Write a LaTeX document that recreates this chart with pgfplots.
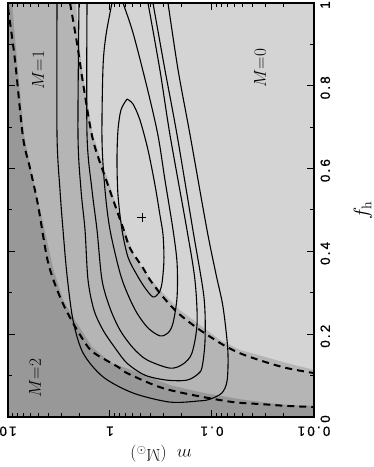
\documentclass[border=0pt]{standalone}
\usepackage{fontspec}
\usepackage{pgfplots}
\pgfplotsset{compat=1.18}
\newfontfamily\ticksf[LetterSpace=16,FakeBold=0.8]{Liberation Sans}
\newcommand\tl[1]{\mbox{\fontsize{13.5}{15}\selectfont\ticksf #1}}
\definecolor{mzero}{RGB}{212,212,212}
\definecolor{mone}{RGB}{181,181,181}
\definecolor{mtwo}{RGB}{152,152,152}
\tikzset{
  contour/.style={black, line width=1.1bp, smooth},
  bound/.style={black, line width=2bp, dash pattern=on 7bp off 5bp, smooth},
  mlab/.style={rotate=90, font=\fontsize{17}{19}\selectfont},
}
\begin{document}
\begin{tikzpicture}
\begin{axis}[
  scale only axis, width=306bp, height=414bp,
  xmode=log, x dir=reverse, xmin=0.01, xmax=10,
  ymin=0, ymax=1,
  axis background/.style={fill=mzero},
  axis on top,
  axis line style={line width=1.1bp},
  xtick={0.01,0.1,1,10}, xticklabels={\tl{0.01},\tl{0.1},\tl{1},\tl{10}},
  minor xtick={0.02,0.03,0.04,0.05,0.06,0.07,0.08,0.09,0.2,0.3,0.4,0.5,0.6,0.7,0.8,0.9,2,3,4,5,6,7,8,9},
  ytick={0,0.2,0.4,0.6,0.8,1}, yticklabels={\tl{0},\tl{0.2},\tl{0.4},\tl{0.6},\tl{0.8},\tl{1}},
  minor ytick={0.1,0.3,0.5,0.7,0.9},
  yticklabel pos=right,
  tick align=inside,
  major tick length=7bp, minor tick length=4bp,
  every tick/.style={black, line width=1bp},
  % shifts are in the rotated frame of each label
  xticklabel style={rotate=180, anchor=south, yshift=6bp},
  yticklabel style={rotate=90, anchor=north, xshift=-2bp, yshift=-3bp},
]
% shaded regions M=1 and M=2
\addplot[fill=mone, draw=none] coordinates {(2.154,1.0) (2.013,0.903) (1.799,0.807) (1.468,0.681) (1.046,0.572) (0.763,0.471) (0.569,0.384) (0.454,0.350) (0.324,0.307) (0.206,0.258) (0.131,0.222) (0.0835,0.186) (0.0531,0.162) (0.0282,0.143) (0.0172,0.128) (0.01,0.114) (0.01,0) (10,0) (10,1)};
\addplot[fill=mtwo, draw=none] coordinates {(9.136,1.0) (8.16,0.862) (6.96,0.681) (5.686,0.572) (4.64,0.481) (3.622,0.360) (2.889,0.283) (2.203,0.234) (1.501,0.169) (0.956,0.130) (0.508,0.106) (0.258,0.077) (0.131,0.060) (0.0531,0.043) (0.0282,0.034) (0.018,0.029) (0.01,0.027) (0.01,0) (10,0) (10,1)};

% dashed boundaries
\addplot[bound] coordinates {(10,0.988) (8.54,0.862) (7.13,0.676) (6.085,0.601) (5.08,0.512) (4.053,0.374) (3.092,0.290) (2.305,0.227) (1.643,0.169) (1.341,0.150) (0.835,0.121) (0.681,0.106) (0.324,0.072) (0.154,0.053) (0.0622,0.036) (0.0323,0.031) (0.0192,0.027) (0.01,0.024)};
\addplot[bound] coordinates {(2.466,1.0) (2.106,0.903) (1.840,0.807) (1.468,0.669) (1.046,0.560) (0.746,0.457) (0.637,0.408) (0.475,0.360) (0.405,0.331) (0.302,0.290) (0.215,0.251) (0.140,0.215) (0.100,0.191) (0.0713,0.169) (0.0508,0.152) (0.0302,0.133) (0.0184,0.118) (0.01,0.106)};

% likelihood contours
\addplot[contour] coordinates {(0.681,0.768) (0.780,0.742) (0.835,0.693) (0.854,0.621) (0.835,0.536) (0.763,0.452) (0.666,0.386) (0.544,0.343) (0.454,0.312) (0.379,0.290) (0.331,0.300) (0.309,0.324) (0.296,0.379) (0.302,0.440) (0.324,0.488) (0.362,0.560) (0.424,0.645) (0.508,0.717) (0.595,0.756) (0.681,0.768)};
\addplot[contour] coordinates {(0.956,1.0) (1.094,0.923) (1.171,0.845) (1.198,0.669) (1.119,0.548) (1.000,0.452) (0.798,0.348) (0.666,0.295) (0.544,0.251) (0.424,0.215) (0.324,0.196) (0.270,0.203) (0.241,0.227) (0.220,0.290) (0.220,0.372) (0.241,0.452) (0.289,0.572) (0.339,0.681) (0.434,0.797) (0.595,0.928) (0.746,1.0)};
\addplot[contour] coordinates {(1.680,1.0) (1.680,0.681) (1.501,0.548) (1.341,0.452) (1.198,0.331) (1.000,0.263) (0.798,0.210) (0.595,0.167) (0.434,0.138) (0.258,0.118) (0.192,0.128) (0.157,0.155) (0.140,0.227) (0.147,0.331) (0.176,0.452) (0.258,0.681) (0.324,0.838) (0.424,1.0)};
\addplot[contour] coordinates {(2.013,1.0) (2.060,0.681) (1.924,0.548) (1.758,0.452) (1.643,0.331) (1.435,0.258) (1.171,0.210) (0.893,0.167) (0.681,0.130) (0.454,0.101) (0.276,0.089) (0.176,0.089) (0.137,0.104) (0.125,0.121) (0.117,0.186) (0.120,0.290) (0.154,0.452) (0.220,0.681) (0.289,0.838) (0.379,1.0)};
\addplot[contour] coordinates {(3.308,1.0) (3.308,0.681) (3.092,0.548) (2.889,0.452) (2.640,0.343) (2.305,0.234) (1.840,0.155) (1.171,0.097) (0.595,0.058) (0.258,0.036) (0.131,0.039) (0.105,0.043) (0.080,0.058) (0.071,0.089) (0.070,0.162) (0.078,0.266) (0.091,0.343) (0.112,0.452) (0.164,0.681) (0.215,0.838) (0.270,1.0)};

% best fit
\addplot[only marks, mark=+, mark size=4.5bp, mark options={line width=0.9bp}] coordinates {(0.4856,0.483)};

\node[mlab] at (axis cs:0.0338,0.843) {$M{=}0$};
\node[mlab] at (axis cs:5.08,0.838) {$M{=}1$};
\node[mlab] at (axis cs:5.43,0.094) {$M{=}2$};
\end{axis}
\node[rotate=180, font=\fontsize{17}{19}\selectfont] at ([yshift=-37bp]current axis.south) {$m$\ \ (M$_\odot$)};
\node[rotate=90, font=\fontsize{20}{22}\selectfont] at ([xshift=49bp]current axis.east) {$f_{\mathrm{h}}$};
\pgfresetboundingbox
\path[use as bounding box] ([shift={(-8bp,-50bp)}]current axis.south west) rectangle ([shift={(60bp,3bp)}]current axis.north east);
\end{tikzpicture}
\end{document}
